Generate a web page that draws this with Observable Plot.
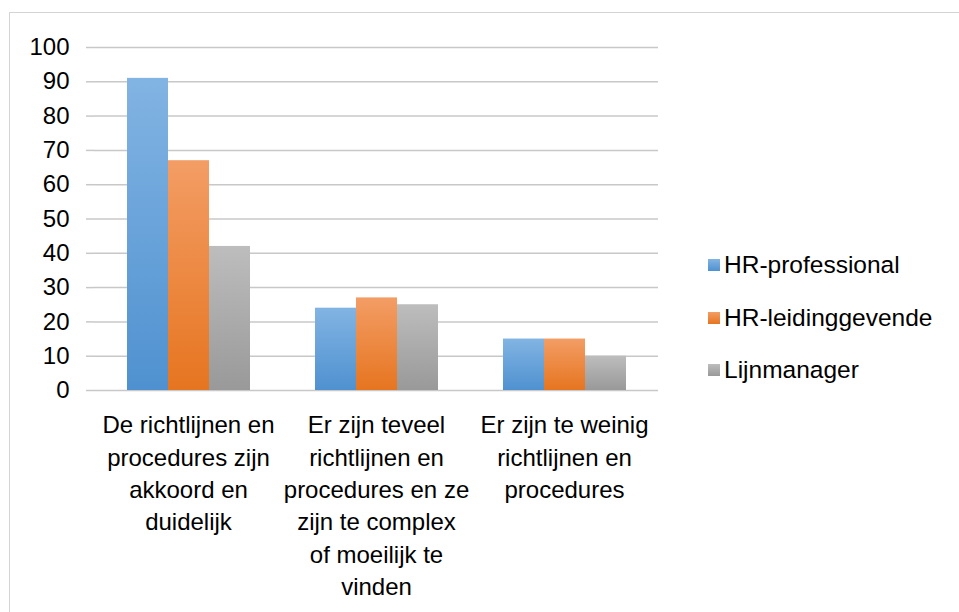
<!DOCTYPE html>
<html>
<head>
<meta charset="utf-8">
<script src="https://cdn.jsdelivr.net/npm/d3@7"></script>
<script src="https://cdn.jsdelivr.net/npm/@observablehq/plot@0.6"></script>
<style>
  html, body { margin: 0; padding: 0; background: #fff; }
  #wrap { position: relative; width: 959px; height: 612px; overflow: hidden; font-family: "Liberation Sans", Arial, sans-serif; }
  #border { position: absolute; left: 9px; top: 12px; width: 1000px; height: 700px; border: 1.5px solid #d4d4d4; box-sizing: border-box; }
  #chart { position: absolute; left: 0; top: 0; }
  #legend { position: absolute; left: 708px; top: 0; }
  .item { position: absolute; left: 0; white-space: nowrap; font-size: 24.5px; color: #000; }
  .sw { position: absolute; left: 0; width: 12px; height: 12px; }
  .lbl { position: absolute; left: 16px; }
</style>
</head>
<body>
<div id="wrap">
  <div id="border"></div>
  <div id="chart"></div>
  <div id="legend"></div>
</div>
<script>
// ---- data ----
const categories = [
  "De richtlijnen en procedures zijn akkoord en duidelijk",
  "Er zijn teveel richtlijnen en procedures en ze zijn te complex of moeilijk te vinden",
  "Er zijn te weinig richtlijnen en procedures"
];
const categoryLabels = [
  "De richtlijnen en\nprocedures zijn\nakkoord en\nduidelijk",
  "Er zijn teveel\nrichtlijnen en\nprocedures en ze\nzijn te complex\nof moeilijk te\nvinden",
  "Er zijn te weinig\nrichtlijnen en\nprocedures"
];
const series = ["HR-professional", "HR-leidinggevende", "Lijnmanager"];
const hrProfessional = [91, 24, 15];
const hrLeidinggevende = [67, 27, 15];
const lijnmanager = [42, 25, 10];
const yTicks = [0, 10, 20, 30, 40, 50, 60, 70, 80, 90, 100];

// ---- styles ----
const gradients = [
  {id: "gBlue", top: "#82b4e3", bottom: "#4f91d0"},
  {id: "gOrange", top: "#f39d65", bottom: "#e67520"},
  {id: "gGray", top: "#bdbdbd", bottom: "#999999"}
];
const gridColor = "#c8c8c8";

const valuesBySeries = [hrProfessional, hrLeidinggevende, lijnmanager];
const data = [];
series.forEach((s, si) => {
  categories.forEach((c, ci) => data.push({category: c, series: s, value: valuesBySeries[si][ci]}));
});

const chart = Plot.plot({
  width: 959,
  height: 612,
  marginLeft: 93,
  marginTop: 47,
  marginBottom: 222,
  marginRight: 301,
  style: {fontFamily: "'Liberation Sans', Arial, sans-serif", fontSize: "24px", color: "#000", background: "transparent", overflow: "visible"},
  fx: {domain: categories, padding: 0, label: null},
  x: {domain: series, paddingInner: 0, paddingOuter: 0.75, axis: null},
  y: {domain: [0, 100], label: null},
  color: {domain: series, range: gradients.map(g => `url(#${g.id})`)},
  marks: [
    Plot.gridY(yTicks, {stroke: gridColor, strokeOpacity: 1, strokeWidth: 1.5}),
    Plot.axisY(yTicks, {tickSize: 8, tickPadding: 17, stroke: gridColor, strokeWidth: 1.5, fill: "#000", fontSize: 24, label: null}),
    Plot.barY(data, {fx: "category", x: "series", y: "value", fill: "series"}),
    // y-axis line
    Plot.ruleX([categories[0]], {fx: d => d, frameAnchor: "left", insetBottom: -8, stroke: gridColor, strokeWidth: 1.5}),
    // category boundary ticks
    Plot.ruleX(categories, {fx: d => d, frameAnchor: "left", y1: 0, y2: 0, insetBottom: -8, stroke: gridColor, strokeWidth: 1.5}),
    Plot.ruleX([categories[categories.length - 1]], {fx: d => d, frameAnchor: "right", y1: 0, y2: 0, insetBottom: -8, stroke: gridColor, strokeWidth: 1.5}),
    Plot.axisFx({anchor: "bottom", tickSize: 0, tickPadding: 20, lineHeight: 1.345, fontSize: 24, fill: "#000", label: null,
      tickFormat: d => categoryLabels[categories.indexOf(d)]})
  ]
});

// gradient defs
const ns = "http://www.w3.org/2000/svg";
const defs = document.createElementNS(ns, "defs");
gradients.forEach(g => {
  const lg = document.createElementNS(ns, "linearGradient");
  lg.setAttribute("id", g.id);
  lg.setAttribute("x1", "0"); lg.setAttribute("y1", "0");
  lg.setAttribute("x2", "0"); lg.setAttribute("y2", "1");
  [[0, g.top], [1, g.bottom]].forEach(([o, c]) => {
    const st = document.createElementNS(ns, "stop");
    st.setAttribute("offset", o);
    st.setAttribute("stop-color", c);
    lg.appendChild(st);
  });
  defs.appendChild(lg);
});
chart.insertBefore(defs, chart.firstChild);
document.getElementById("chart").appendChild(chart);

// legend
const legendTops = [265, 318, 370];
const legend = document.getElementById("legend");
series.forEach((s, i) => {
  const item = document.createElement("div");
  item.className = "item";
  item.style.top = (legendTops[i] - 14) + "px";
  item.style.height = "28px";
  const sw = document.createElement("div");
  sw.className = "sw";
  sw.style.top = "8px";
  sw.style.background = `linear-gradient(${gradients[i].top}, ${gradients[i].bottom})`;
  const lbl = document.createElement("div");
  lbl.className = "lbl";
  lbl.style.top = "0px";
  lbl.style.lineHeight = "28px";
  lbl.textContent = s;
  item.appendChild(sw);
  item.appendChild(lbl);
  legend.appendChild(item);
});
</script>
</body>
</html>
